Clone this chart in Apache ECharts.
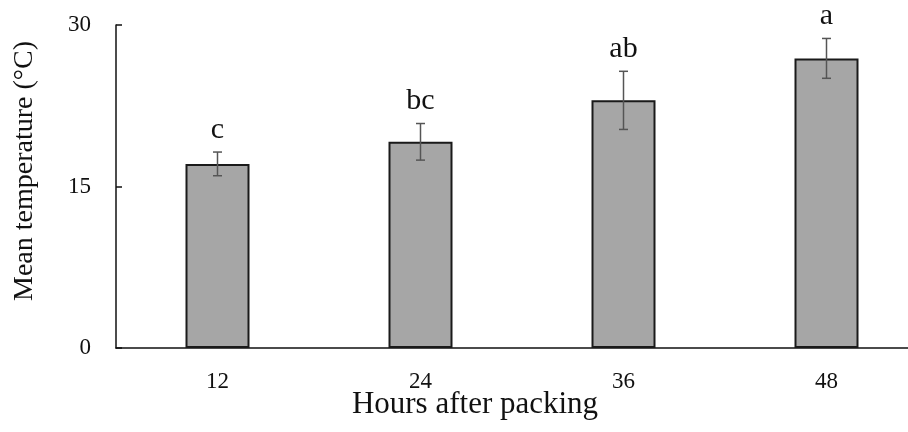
<!DOCTYPE html>
<html>
<head>
<meta charset="utf-8">
<script src="https://cdn.jsdelivr.net/npm/echarts@6/dist/echarts.min.js"></script>
<style>html,body{margin:0;padding:0;background:#fff;overflow:hidden;width:908px;height:432px;}#c{width:928px;height:432px;}</style>
</head>
<body>
<div id="c"></div>
<script>
var categories = ['12', '24', '36', '48'];
var meanValues = [17.1, 19.15, 23.0, 26.9];
var errorValues = [1.1, 1.7, 2.7, 1.85];
var letterLabels = ['c', 'bc', 'ab', 'a'];
var yTicks = [0, 15, 30];
var xTitle = 'Hours after packing';
var yTitle = 'Mean temperature (°C)';

var FONT = '"Liberation Serif", "Times New Roman", serif';
var chart = echarts.init(document.getElementById('c'), null, {renderer: 'canvas'});

var errData = categories.map(function (c, i) {
  return [i, meanValues[i] - errorValues[i], meanValues[i] + errorValues[i], letterLabels[i]];
});

chart.setOption({
  animation: false,
  backgroundColor: '#fff',
  grid: {left: 116, top: 25, bottom: 84, right: 0, containLabel: false},
  title: {
    text: xTitle,
    left: 470, top: 384, textAlign: 'center',
    textStyle: {fontFamily: FONT, fontSize: 31, fontWeight: 'normal', color: '#111'}
  },
  graphic: [{
    type: 'text',
    x: 39, y: 171, rotation: Math.PI / 2,
    style: {
      text: yTitle, textAlign: 'center', textVerticalAlign: 'bottom',
      font: '28px ' + FONT, fill: '#111'
    }
  }],
  xAxis: {
    type: 'category',
    data: categories,
    axisLine: {lineStyle: {color: '#111', width: 1.5}},
    axisTick: {show: false},
    axisLabel: {fontFamily: FONT, fontSize: 23, color: '#111', margin: 22}
  },
  yAxis: {
    type: 'value',
    min: 0, max: 30, interval: 15,
    axisLine: {show: true, lineStyle: {color: '#111', width: 1.5}},
    axisTick: {show: true, inside: true, length: 6, lineStyle: {color: '#111', width: 1.5}},
    splitLine: {show: false},
    axisLabel: {fontFamily: FONT, fontSize: 23, color: '#111', margin: 25,
      formatter: function (v) { return yTicks.indexOf(v) >= 0 ? String(v) : ''; }}
  },
  series: [
    {
      type: 'bar',
      data: meanValues,
      barWidth: 64,
      itemStyle: {color: '#a6a6a6', borderColor: '#1a1a1a', borderWidth: 2}
    },
    {
      type: 'custom',
      data: errData,
      z: 10,
      renderItem: function (params, api) {
        var x = api.value(0);
        var lo = api.coord([x, api.value(1)]);
        var hi = api.coord([x, api.value(2)]);
        var hw = 4.5;
        var st = {stroke: '#555', lineWidth: 1.5};
        return {
          type: 'group',
          children: [
            {type: 'line', shape: {x1: hi[0], y1: hi[1], x2: lo[0], y2: lo[1]}, style: st},
            {type: 'line', shape: {x1: hi[0] - hw, y1: hi[1], x2: hi[0] + hw, y2: hi[1]}, style: st},
            {type: 'line', shape: {x1: lo[0] - hw, y1: lo[1], x2: lo[0] + hw, y2: lo[1]}, style: st},
            {type: 'text', style: {
              text: api.value(3), x: hi[0], y: hi[1] - 7,
              textAlign: 'center', textVerticalAlign: 'bottom',
              font: '30px ' + FONT, fill: '#111'
            }}
          ]
        };
      }
    }
  ]
});
</script>
</body>
</html>
